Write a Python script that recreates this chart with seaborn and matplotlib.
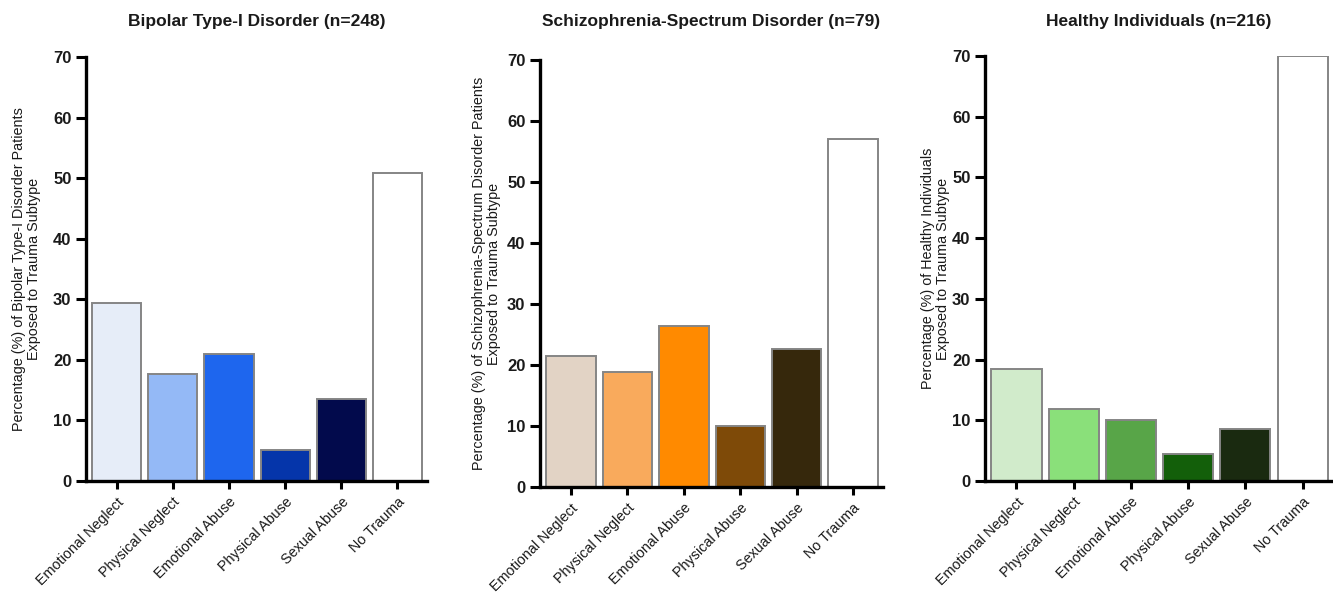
import matplotlib
matplotlib.use("Agg")
import matplotlib.pyplot as plt
import pandas as pd
import seaborn as sns

sns.set_theme(style="white")
plt.rcParams["font.family"] = ["Liberation Sans", "DejaVu Sans"]

categories = ["Emotional Neglect", "Physical Neglect", "Emotional Abuse",
              "Physical Abuse", "Sexual Abuse", "No Trauma"]

bipolar_values = [29.4, 17.6, 20.9, 5.1, 13.6, 50.8]
schizo_values = [21.4, 18.8, 26.4, 10.0, 22.6, 57.0]
healthy_values = [18.4, 11.9, 10.0, 4.5, 8.6, 70.0]

titles = ["Bipolar Type-I Disorder (n=248)",
          "Schizophrenia-Spectrum Disorder (n=79)",
          "Healthy Individuals (n=216)"]
ylabels = ["Percentage (%) of Bipolar Type-I Disorder Patients\nExposed to Trauma Subtype",
           "Percentage (%) of Schizophrenia-Spectrum Disorder Patients\nExposed to Trauma Subtype",
           "Percentage (%) of Healthy Individuals\nExposed to Trauma Subtype"]

blue_palette = ["#E6EDF8", "#94B9F6", "#1E66EE", "#0535AA", "#020A4C", "#FFFFFF"]
orange_palette = ["#E2D3C5", "#F9AA5C", "#FF8A00", "#7E4A08", "#36280C", "#FFFFFF"]
green_palette = ["#D1EBCB", "#8AE07A", "#58A548", "#135F0A", "#1A2A10", "#FFFFFF"]

W, H = 1333, 594
# pixel extents of each axes: left, right, y of 0, y of 70
boxes = [(86, 427, 481, 57), (540, 883, 487, 60), (985, 1333, 481, 56)]
label_x = [41, 501, 950]
text_color = "#1a1a1a"

fig = plt.figure(figsize=(W / 100, H / 100), dpi=100)

panels = zip(boxes, label_x, titles, ylabels,
             [bipolar_values, schizo_values, healthy_values],
             [blue_palette, orange_palette, green_palette])

for (left, right, y0, y70), lx, title, ylabel, values, palette in panels:
    ax = fig.add_axes([left / W, 1 - y0 / H, (right - left) / W, (y0 - y70) / H])
    df = pd.DataFrame({"category": categories, "value": values})
    sns.barplot(data=df, x="category", y="value", hue="category", palette=palette,
                legend=False, width=0.875, edgecolor="#858585", linewidth=1.4,
                saturation=1, ax=ax)
    ax.set_xlim(-0.55, 5.53)
    ax.set_ylim(0, 70)
    ax.set_yticks(range(0, 71, 10))
    for side in ["top", "right"]:
        ax.spines[side].set_visible(False)
    for side in ["left", "bottom"]:
        ax.spines[side].set_color("black")
        ax.spines[side].set_linewidth(2.4)
    ax.tick_params(axis="y", direction="out", length=7.5, width=2.2, color="black",
                   labelsize=12, pad=3, left=True)
    ax.tick_params(axis="x", direction="out", length=6, width=2.2, color="black",
                   labelsize=10.4, pad=4, bottom=True)
    for lab in ax.get_yticklabels():
        lab.set_fontweight("bold")
        lab.set_color(text_color)
    ax.set_xticks(range(len(categories)))
    ax.set_xticklabels(categories, rotation=45, ha="right", rotation_mode="anchor",
                       color=text_color)
    ax.set_xlabel("")
    ax.set_ylabel(ylabel, fontsize=10.4, color=text_color, linespacing=1.1)
    ax.yaxis.set_label_coords((lx - left) / (right - left), 0.5)
    fig.text((left + right) / 2 / W, 1 - 21.5 / H, title, fontsize=12.5,
             fontweight="bold", color=text_color, ha="center", va="center")

fig.savefig("out.png", dpi=100)
